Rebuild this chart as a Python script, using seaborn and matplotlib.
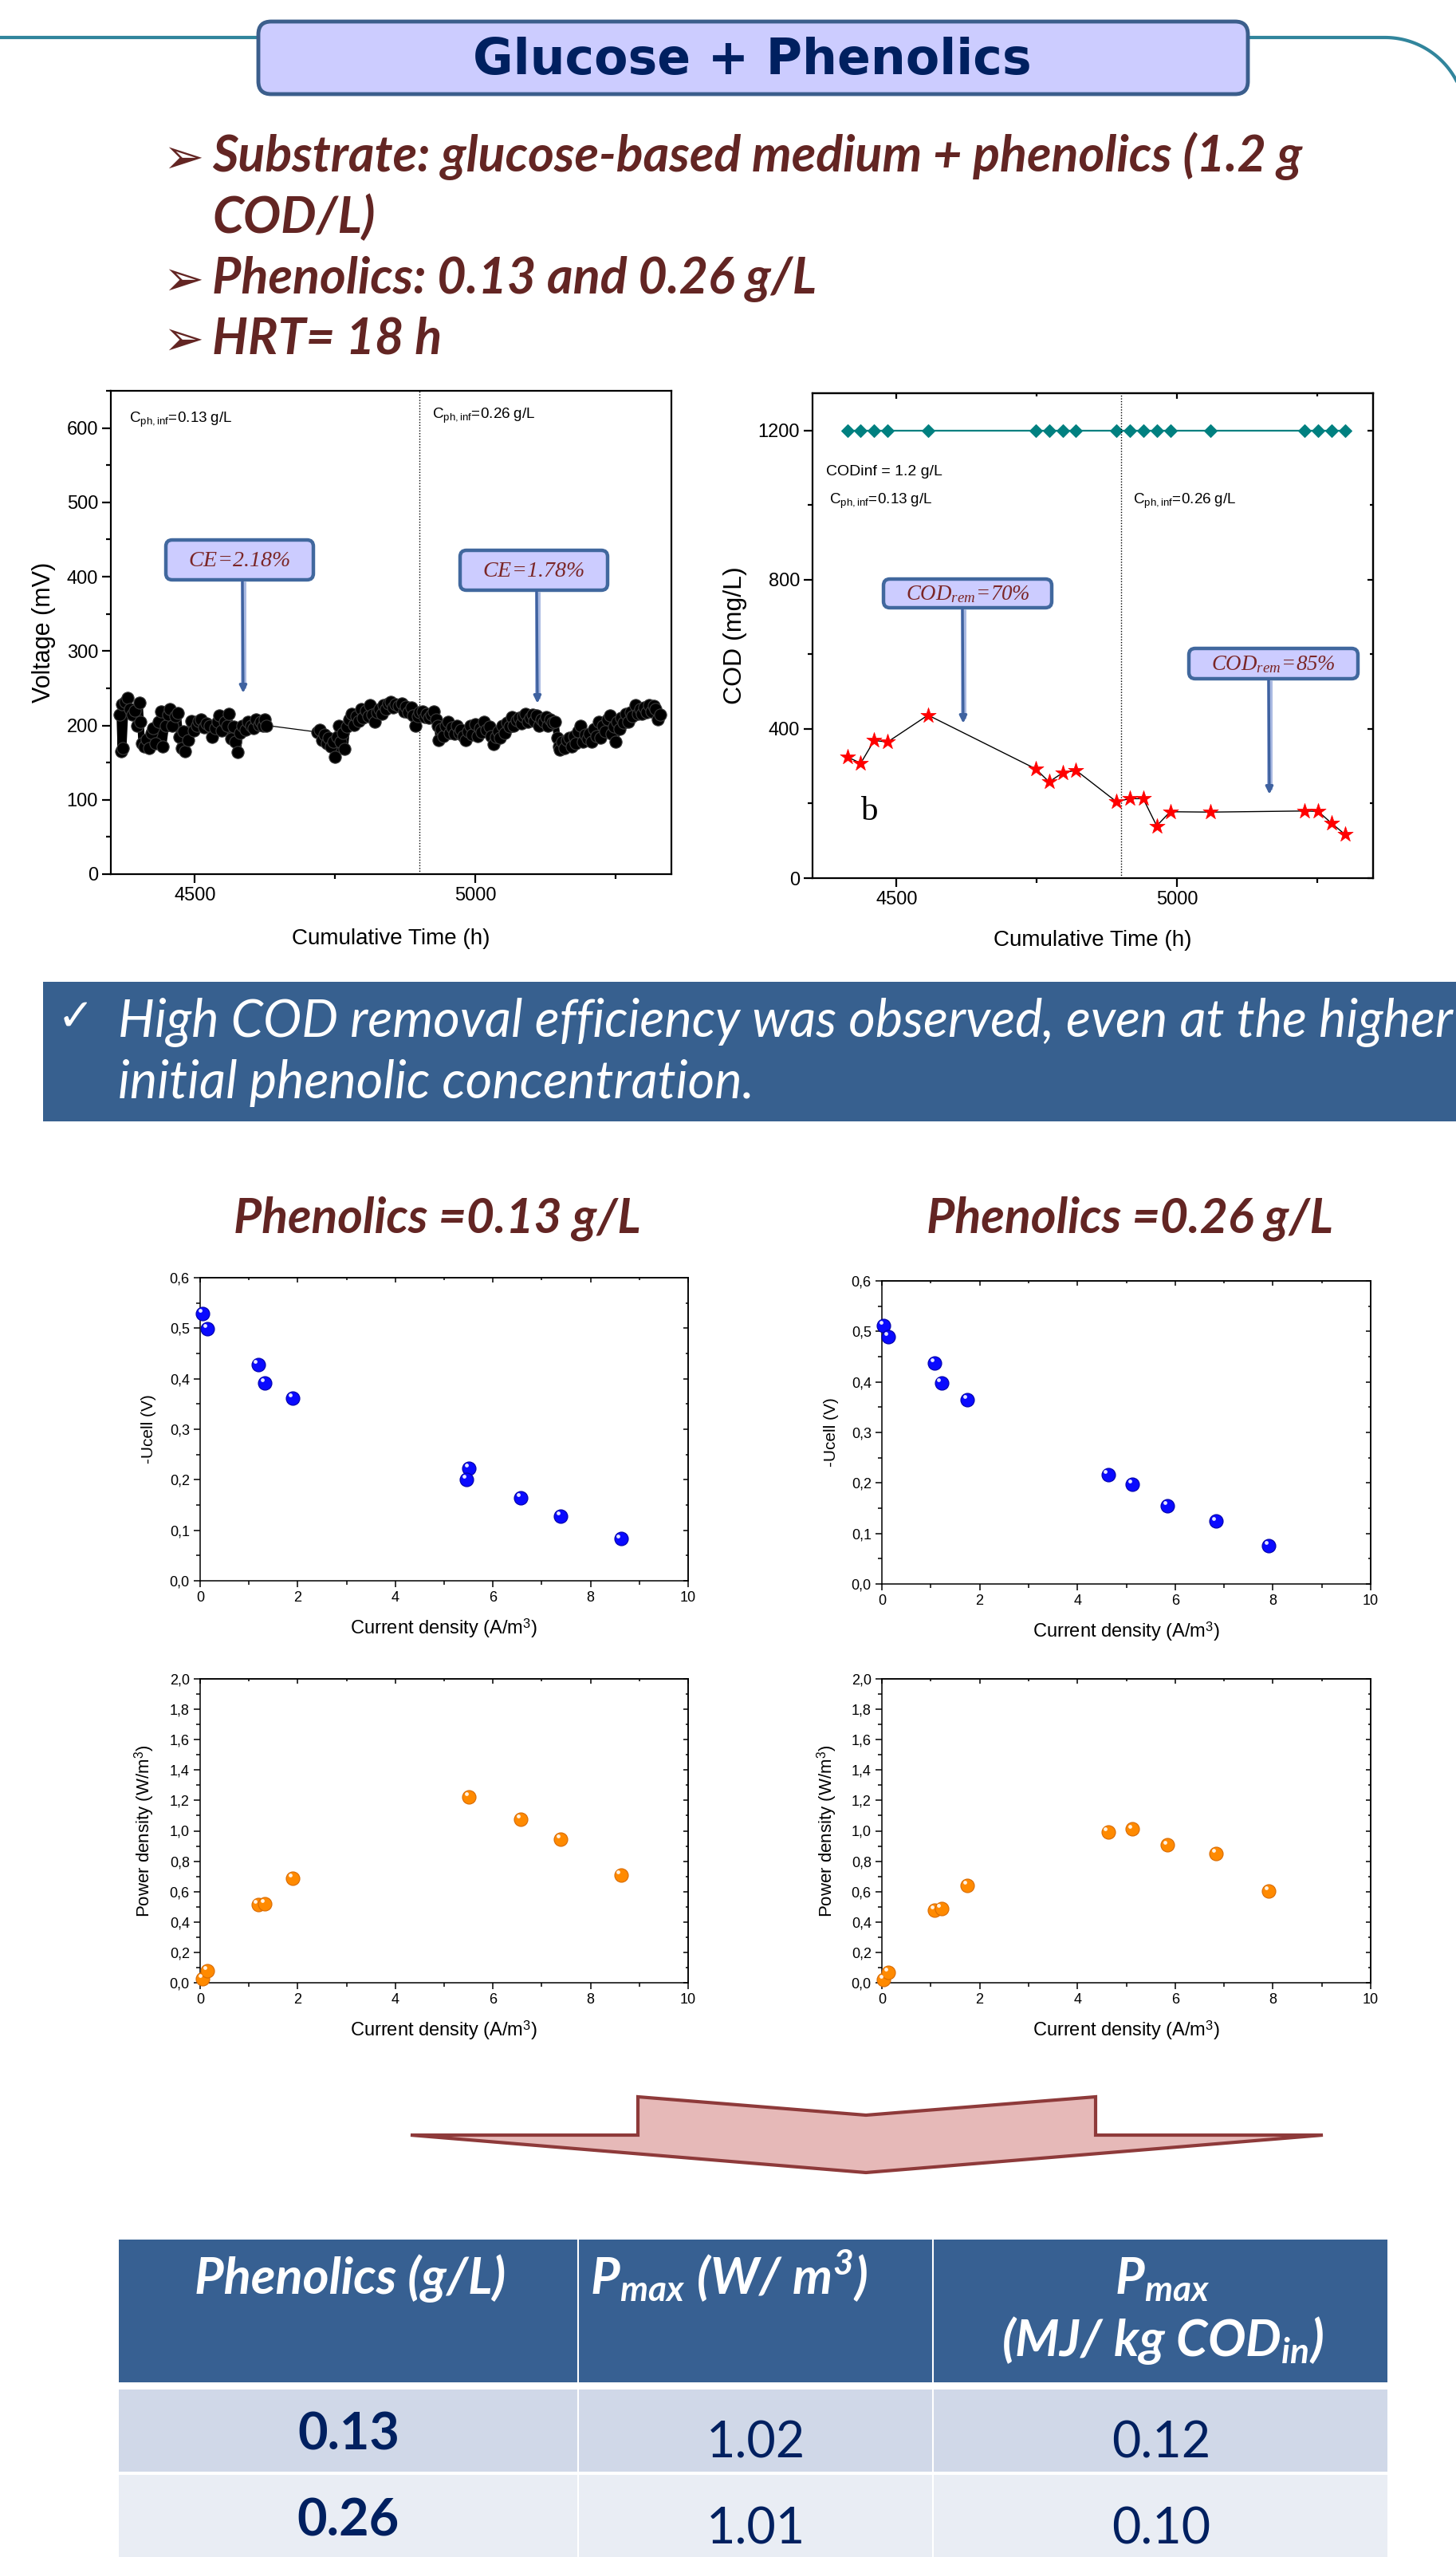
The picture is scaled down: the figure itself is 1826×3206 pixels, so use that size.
import numpy as np
import pandas as pd
import matplotlib
matplotlib.use("Agg")
import matplotlib.pyplot as plt
import matplotlib.ticker as mticker
from matplotlib.patches import FancyBboxPatch, Polygon, Rectangle
from matplotlib.transforms import ScaledTranslation
import seaborn as sns

# ---------------------------------------------------------------- data
# cell voltage (cumulative time h, mV)
VOLT_SEG1 = [(4366, 215), (4368, 165), (4370, 228), (4372, 170), (4376, 232), (4380, 237),
             (4384, 222), (4388, 215), (4393, 220), (4397, 200), (4401, 231), (4403, 205),
             (4405, 176), (4410, 172), (4414, 181), (4418, 170), (4422, 190), (4426, 196),
             (4430, 176), (4435, 205), (4440, 219), (4443, 172), (4448, 200), (4452, 214),
             (4455, 222), (4460, 200), (4465, 212), (4469, 217), (4473, 185), (4476, 170),
             (4479, 192), (4483, 165), (4488, 180), (4493, 206), (4498, 193), (4503, 200),
             (4507, 206), (4511, 208), (4516, 197), (4521, 203), (4526, 200), (4531, 184),
             (4536, 196), (4540, 205), (4543, 213), (4548, 193), (4553, 205), (4557, 200),
             (4560, 216), (4565, 182), (4569, 198), (4572, 178), (4576, 164), (4580, 190),
             (4585, 200), (4590, 194), (4595, 205), (4600, 200), (4605, 196), (4609, 208),
             (4614, 201), (4618, 205), (4622, 200), (4625, 208), (4628, 200)]
VOLT_SEG2 = [(4719, 191), (4723, 194), (4727, 180), (4731, 188), (4735, 176), (4739, 183),
             (4743, 172), (4747, 178), (4750, 158), (4754, 185), (4757, 200), (4760, 178),
             (4764, 190), (4767, 168), (4771, 198), (4775, 208), (4780, 216), (4784, 201),
             (4788, 212), (4792, 206), (4796, 222), (4800, 210), (4805, 220), (4809, 212),
             (4812, 227), (4817, 214), (4821, 205), (4825, 218), (4829, 222), (4833, 216),
             (4837, 227), (4841, 222), (4845, 230), (4849, 232), (4853, 224), (4858, 229),
             (4863, 226), (4869, 230), (4873, 219), (4877, 225), (4881, 218), (4886, 224),
             (4889, 213), (4893, 200), (4897, 212), (4901, 218), (4906, 219), (4910, 211),
             (4914, 216), (4918, 210), (4922, 214), (4926, 219), (4930, 208), (4933, 200),
             (4935, 180), (4939, 195), (4943, 186), (4947, 200), (4951, 205), (4955, 190),
             (4959, 197), (4963, 189), (4967, 200), (4971, 190), (4975, 194), (4979, 186),
             (4983, 180), (4987, 192), (4991, 200), (4995, 188), (5000, 202), (5004, 186),
             (5008, 196), (5012, 191), (5016, 205), (5020, 194), (5025, 198), (5029, 186),
             (5033, 175), (5037, 184), (5041, 192), (5044, 183), (5048, 200), (5052, 190),
             (5057, 204), (5061, 198), (5065, 211), (5069, 200), (5074, 207), (5078, 210),
             (5082, 203), (5086, 212), (5090, 216), (5094, 205), (5098, 210), (5102, 214),
             (5106, 206), (5110, 213), (5114, 200), (5118, 208), (5122, 205), (5126, 211),
             (5130, 200), (5134, 208), (5138, 204), (5143, 205), (5146, 183), (5149, 172),
             (5151, 167), (5155, 178), (5159, 170), (5163, 180), (5168, 183), (5172, 172),
             (5176, 186), (5180, 176), (5184, 192), (5188, 200), (5192, 178), (5196, 188),
             (5200, 182), (5204, 189), (5208, 178), (5212, 195), (5216, 186), (5220, 205),
             (5224, 183), (5228, 200), (5232, 192), (5236, 208), (5240, 213), (5244, 189),
             (5248, 198), (5251, 178), (5253, 205), (5257, 195), (5261, 210), (5265, 204),
             (5269, 216), (5273, 205), (5277, 218), (5281, 212), (5286, 227), (5290, 216),
             (5294, 222), (5298, 216), (5302, 224), (5306, 218), (5310, 227), (5314, 219),
             (5318, 226), (5322, 222), (5326, 208), (5330, 214)]

COD_TIME = [4412, 4436, 4460, 4484, 4556, 4748, 4772, 4796, 4820, 4892,
            4916, 4940, 4964, 4988, 5060, 5228, 5252, 5276, 5300]
COD_INFLUENT = [1200, 1200, 1200, 1200, 1200, 1200, 1200, 1200, 1200, 1200,
                1200, 1200, 1200, 1200, 1200, 1200, 1200, 1200, 1200]
COD_EFFLUENT = [325, 308, 369, 365, 437, 293, 258, 282, 289, 205,
                213, 213, 140, 178, 177, 180, 179, 147, 117]

J_013 = [0.055, 0.15, 1.19, 1.33, 1.90, 5.51, 5.46, 6.57, 7.39, 8.62]
U_013 = [0.529, 0.499, 0.428, 0.392, 0.361, 0.223, 0.200, 0.164, 0.128, 0.083]
PJ_013 = [0.055, 0.15, 1.19, 1.33, 1.90, 5.51, 6.57, 7.39, 8.62]
P_013 = [0.028, 0.080, 0.513, 0.521, 0.688, 1.223, 1.078, 0.947, 0.709]
J_026 = [0.033, 0.13, 1.08, 1.22, 1.75, 4.63, 5.13, 5.84, 6.84, 7.91]
U_026 = [0.511, 0.490, 0.437, 0.398, 0.365, 0.216, 0.197, 0.155, 0.124, 0.076]
P_026 = [0.019, 0.070, 0.478, 0.488, 0.640, 0.994, 1.011, 0.906, 0.849, 0.602]

TABLE_PHENOLICS = ["0.13", "0.26"]
TABLE_PMAX_W = ["1.02", "1.01"]
TABLE_PMAX_MJ = ["0.12", "0.10"]

# ---------------------------------------------------------------- style
sns.set_theme(style="white")
plt.rcParams["font.family"] = ["Liberation Sans", "DejaVu Sans"]
plt.rcParams["mathtext.fontset"] = "custom"
plt.rcParams["mathtext.rm"] = "Liberation Serif:italic"
plt.rcParams["mathtext.it"] = "Liberation Serif:italic"
plt.rcParams["mathtext.sf"] = "Liberation Sans"
plt.rcParams["mathtext.bf"] = "Lato:italic:bold"
for k in ["text.color", "axes.labelcolor", "xtick.color", "ytick.color", "axes.edgecolor"]:
    plt.rcParams[k] = "black"

W, H = 1826, 3206
fig = plt.figure(figsize=(W / 100, H / 100), dpi=100)
fig.patch.set_facecolor("white")
renderer = fig.canvas.get_renderer()


def add_ax(l, t, r, b):
    return fig.add_axes([l / W, 1 - b / H, (r - l) / W, (b - t) / H])


def style_axes(ax, lw):
    ax.set_facecolor("white")
    ax.grid(False)
    for s in ax.spines.values():
        s.set_visible(True)
        s.set_color("black")
        s.set_linewidth(lw)


def mirror(ax, xmaj, xmin, ymaj, ymin, L, Lm, w):
    sx = ax.secondary_xaxis("top")
    sx.set_xticks(xmaj)
    sx.xaxis.set_minor_locator(mticker.FixedLocator(xmin))
    sx.tick_params(which="both", direction="in", labeltop=False, width=w)
    sx.tick_params(which="major", length=L)
    sx.tick_params(which="minor", length=Lm)
    sx.spines["top"].set_linewidth(w)
    sy = ax.secondary_yaxis("right")
    sy.set_yticks(ymaj)
    sy.yaxis.set_minor_locator(mticker.FixedLocator(ymin))
    sy.tick_params(which="both", direction="in", labelright=False, width=w)
    sy.tick_params(which="major", length=L)
    sy.tick_params(which="minor", length=Lm)
    sy.spines["right"].set_linewidth(w)


# ---------------------------------------------------------------- voltage
axv = add_ax(139, 490, 842, 1096)
style_axes(axv, 1.6)
d1 = pd.DataFrame(VOLT_SEG1, columns=["time", "voltage"])
d2 = pd.DataFrame(VOLT_SEG2, columns=["time", "voltage"])
gap = pd.DataFrame([VOLT_SEG1[-1], VOLT_SEG2[0]], columns=["time", "voltage"])
sns.lineplot(data=gap, x="time", y="voltage", ax=axv, color="black", lw=0.9,
             estimator=None, sort=False)
for d in (d1, d2):
    sns.lineplot(data=d, x="time", y="voltage", ax=axv, color="black", lw=6,
                 estimator=None, sort=False, marker="o", ms=11, mfc="black",
                 mec="#3c3c3c", mew=0.8)
axv.set_xlim(4350, 5350)
axv.set_ylim(0, 650)
axv.set_xticks([4500, 5000])
axv.xaxis.set_minor_locator(mticker.FixedLocator([4750, 5250]))
axv.set_yticks(range(0, 601, 100))
axv.yaxis.set_minor_locator(mticker.MultipleLocator(50))
axv.tick_params(which="both", direction="out", left=True, bottom=True, width=1.6, labelsize=17)
axv.tick_params(which="major", length=8)
axv.tick_params(which="minor", length=4.5)
axv.axvline(4900, color="black", ls=(0, (1, 1.5)), lw=1)
axv.set_xlabel("Cumulative Time (h)", fontsize=20)
axv.set_ylabel("Voltage (mV)", fontsize=22)
axv.yaxis.set_label_coords((70 - 139) / 703, 0.5)
axv.xaxis.set_label_coords(0.5, -(1164 - 1096) / 606)

# ---------------------------------------------------------------- COD
axc = add_ax(1019, 493, 1722, 1101)
style_axes(axc, 1.6)
cod = pd.DataFrame({"time": COD_TIME, "influent": COD_INFLUENT, "effluent": COD_EFFLUENT})
sns.lineplot(data=cod, x="time", y="influent", ax=axc, color="#008080", lw=1.6,
             estimator=None, marker="D", ms=8.5, mfc="#008080", mec="#008080")
sns.lineplot(data=cod, x="time", y="effluent", ax=axc, color="black", lw=1.0, estimator=None)
sns.scatterplot(data=cod, x="time", y="effluent", ax=axc, marker="*", s=210,
                color="#ff0000", edgecolor="#ff0000", linewidth=0.5, zorder=4)
axc.set_xlim(4350, 5350)
axc.set_ylim(0, 1300)
axc.set_xticks([4500, 5000])
axc.xaxis.set_minor_locator(mticker.FixedLocator([4750, 5250]))
axc.set_yticks([0, 400, 800, 1200])
axc.yaxis.set_minor_locator(mticker.FixedLocator([200, 600, 1000]))
axc.tick_params(which="both", direction="out", left=True, bottom=True, width=1.6, labelsize=17)
axc.tick_params(which="major", length=8)
axc.tick_params(which="minor", length=4.5)
mirror(axc, [4500, 5000], [4750, 5250], [0, 400, 800, 1200], [200, 600, 1000], 5, 3, 1.6)
axc.axvline(4900, color="black", ls=(0, (1, 1.5)), lw=1)
axc.set_xlabel("Cumulative Time (h)", fontsize=20)
axc.set_ylabel("COD (mg/L)", fontsize=23)
axc.yaxis.set_label_coords((937 - 1019) / 703, 0.5)
axc.xaxis.set_label_coords(0.5, -(1166 - 1101) / 608)

# ---------------------------------------------------------------- polarisation plots
comma = mticker.FuncFormatter(lambda v, p: f"{v:.1f}".replace(".", ","))


def iv_plot(box, x, y, color, edge, ymax, ymaj, ymin, ylabel, ylab_fs, ylab_x, xlab_top):
    l, t, r, b = box
    ax = add_ax(l, t, r, b)
    style_axes(ax, 1.1)
    df = pd.DataFrame({"j": x, "v": y})
    sns.scatterplot(data=df, x="j", y="v", ax=ax, s=150, color=color, edgecolor=edge,
                    linewidth=0.8, zorder=3, clip_on=False)
    ax.scatter(df["j"], df["v"], s=12, color="white", alpha=0.9, zorder=4, linewidths=0,
               clip_on=False,
               transform=ax.transData + ScaledTranslation(-2.4 / 72, 2.8 / 72, fig.dpi_scale_trans))
    ax.set_xlim(0, 10)
    ax.set_ylim(0, ymax)
    xt = list(range(0, 11, 2))
    xm = list(range(1, 10, 2))
    yt = list(np.round(np.arange(0, ymax + 1e-9, ymaj), 3))
    ym = list(np.round(np.arange(ymin, ymax, ymaj), 3))
    ax.set_xticks(xt)
    ax.xaxis.set_minor_locator(mticker.FixedLocator(xm))
    ax.set_yticks(yt)
    ax.yaxis.set_minor_locator(mticker.FixedLocator(ym))
    ax.yaxis.set_major_formatter(comma)
    ax.tick_params(which="both", direction="out", left=True, bottom=True, width=1.1, labelsize=13)
    ax.tick_params(which="major", length=6)
    ax.tick_params(which="minor", length=3.5)
    mirror(ax, xt, xm, yt, ym, 4, 2.5, 1.1)
    ax.set_xlabel(r"Current density (A/m$^{\mathsf{3}}$)", fontsize=17)
    ax.set_ylabel(ylabel, fontsize=ylab_fs)
    ax.yaxis.set_label_coords((ylab_x - l) / (r - l), 0.5)
    ax.xaxis.set_label_coords(0.5, -(xlab_top - b) / (b - t))
    return ax


BLUE, BLUE_E = "#0a0aff", "#0000a8"
ORANGE, ORANGE_E = "#ff8a00", "#d86a00"
iv_plot((251, 1602, 863, 1982), J_013, U_013, BLUE, BLUE_E, 0.6, 0.1, 0.05,
        "-Ucell (V)", 15, 196, 2027)
iv_plot((1106, 1606, 1719, 1986), J_026, U_026, BLUE, BLUE_E, 0.6, 0.1, 0.05,
        "-Ucell (V)", 15, 1052, 2031)
iv_plot((251, 2105, 863, 2486), PJ_013, P_013, ORANGE, ORANGE_E, 2.0, 0.2, 0.1,
        r"Power density (W/m$^{\mathsf{3}}$)", 16, 196, 2531)
iv_plot((1106, 2105, 1719, 2486), J_026, P_026, ORANGE, ORANGE_E, 2.0, 0.2, 0.1,
        r"Power density (W/m$^{\mathsf{3}}$)", 16, 1052, 2531)

# ---------------------------------------------------------------- overlay (decorations, texts)
ov = fig.add_axes([0, 0, 1, 1], zorder=10)
ov.set_xlim(0, W)
ov.set_ylim(H, 0)
ov.axis("off")
ov.patch.set_alpha(0)


def fit(t, width):
    bb = t.get_window_extent(renderer=renderer)
    t.set_fontsize(t.get_fontsize() * width / bb.width)
    return t


MAROON = "#632523"
NAVY = "#002060"
TEAL = "#31859C"

# header line and title box
ov.plot([0, 330], [47, 47], color=TEAL, lw=3, solid_capstyle="butt", zorder=1)
ang = np.linspace(np.pi / 2, 0, 60)
arc_x = np.concatenate([[1560], 1737 + 101 * np.cos(ang)])
arc_y = np.concatenate([[47], 148 - 101 * np.sin(ang)])
ov.plot(arc_x, arc_y, color=TEAL, lw=3, zorder=1, clip_on=True)
ov.add_patch(FancyBboxPatch((324, 27), 1241, 91, boxstyle="round,pad=0,rounding_size=16",
                            fc="#CCCCFF", ec="#3B5E8C", lw=3.5, zorder=2))
t = ov.text(943, 76, "Glucose + Phenolics", ha="center", va="center", color=NAVY,
            family=["DejaVu Sans"], weight="bold", fontsize=40, zorder=3)
fit(t, 700)

# bullets
b1 = ov.text(266, 215, "Substrate: glucose-based medium + phenolics (1.2 g", family="Lato",
             weight="bold", style="italic", color=MAROON, fontsize=40, va="baseline")
fit(b1, 1364)
fs = b1.get_fontsize()
for y, s in [(292, "COD/L)"), (368, "Phenolics: 0.13 and 0.26 g/L"), (443, "HRT= 18 h")]:
    ov.text(266, y, s, family="Lato", weight="bold", style="italic", color=MAROON,
            fontsize=fs, va="baseline")
for y in (215, 368, 443):
    ov.text(204, y + 2, "\u27a2", family=["DejaVu Sans"], color=MAROON, fontsize=44,
            va="baseline")

# callouts


def callout(x0, y0, x1, y1, ax_x, y_end, label, width):
    ov.add_patch(FancyBboxPatch((x0, y0), x1 - x0, y1 - y0,
                                boxstyle="round,pad=0,rounding_size=8",
                                fc="#CCCCFF", ec="#41689E", lw=3.2, zorder=5))
    tt = ov.text((x0 + x1) / 2, (y0 + y1) / 2 + 1, label, ha="center", va="center",
                 color="#7B2626", fontsize=20, zorder=6)
    fit(tt, width)
    ov.plot([ax_x, ax_x], [y1 + 2, y_end - 6], color="#A9B9E2", lw=5, zorder=4,
            solid_capstyle="butt")
    ov.annotate("", xy=(ax_x, y_end), xytext=(ax_x - 1, y1 + 2),
                arrowprops=dict(arrowstyle="-|>,head_width=0.22,head_length=0.45",
                                color="#3F62A0", lw=2.4, shrinkA=0, shrinkB=0), zorder=5)


callout(208, 677, 393, 727, 305, 869, r"$CE\!=\!2.18\%$", 128)
callout(577, 690, 762, 740, 674, 882, r"$CE\!=\!1.78\%$", 128)
callout(1108, 726, 1319, 762, 1208, 907, r"$COD_{rem}\!=\!70\%$", 156)
callout(1491, 813, 1703, 851, 1592, 996, r"$COD_{rem}\!=\!85\%$", 156)

# in-plot labels
for x, y, s, wdt in [(162, 530, r"$\mathsf{C_{ph,inf}\!=\!0.13\ g/L}$", 130),
                     (542, 525, r"$\mathsf{C_{ph,inf}\!=\!0.26\ g/L}$", 130),
                     (1040, 632, r"$\mathsf{C_{ph,inf}\!=\!0.13\ g/L}$", 130),
                     (1421, 632, r"$\mathsf{C_{ph,inf}\!=\!0.26\ g/L}$", 130)]:
    fit(ov.text(x, y, s, va="baseline", color="black", fontsize=14), wdt)
fit(ov.text(1036, 596, "CODinf = 1.2 g/L", va="baseline", color="black", fontsize=14), 146)
ov.text(1080, 1028, "b", family="Liberation Serif", fontsize=31, va="baseline", color="black")

# conclusion banner
ov.add_patch(Rectangle((54, 1231), W - 54 + 5, 175, fc="#37608F", ec="none", zorder=1))
ov.text(72, 1292, "\u2713", family=["DejaVu Sans"], color="white", fontsize=40,
        va="baseline", zorder=2)
bl = ov.text(148, 1300, "High COD removal efficiency was observed, even at the higher",
             family="Lato", style="italic", color="white", fontsize=40, va="baseline", zorder=2)
fit(bl, 1672)
ov.text(148, 1377, "initial phenolic concentration.", family="Lato", style="italic",
        color="white", fontsize=bl.get_fontsize(), va="baseline", zorder=2)

# sub-headings
for x, s in [(293, "Phenolics =0.13 g/L"), (1162, "Phenolics =0.26 g/L")]:
    fit(ov.text(x, 1545, s, family="Lato", weight="bold", style="italic", color=MAROON,
                fontsize=40, va="baseline"), 510)

# big arrow
ov.add_patch(Polygon([(515, 2677), (800, 2677), (800, 2629), (1086, 2652), (1374, 2629),
                      (1374, 2677), (1659, 2677), (1086, 2724)], closed=True,
                     fc="#E6B9B8", ec="#8E3A3A", lw=3, joinstyle="miter"))

# table
ov.add_patch(Rectangle((149, 2808), 1591, 179, fc="#376092", ec="none"))
ov.add_patch(Rectangle((149, 2996), 1591, 103, fc="#D0D8E8", ec="none"))
ov.add_patch(Rectangle((149, 3103), 1591, 120, fc="#E9EDF4", ec="none"))
for xx in (725, 1170):
    ov.plot([xx, xx], [2808, 3210], color="white", lw=1.5)
ph = ov.text(439, 2876, "Phenolics (g/L)", ha="center", va="baseline", family="Lato",
             weight="bold", style="italic", color="white", fontsize=40)
fit(ph, 390)
hfs = ph.get_fontsize()
ov.text(914, 2876, r"$\mathbf{P_{max}\ (W/\ m^{3})}$", ha="center", va="baseline",
        color="white", fontsize=hfs)
ov.text(1458, 2876, r"$\mathbf{P_{max}}$", ha="center", va="baseline", color="white", fontsize=hfs)
ov.text(1458, 2954, r"$\mathbf{(MJ/\ kg\ COD_{in})}$", ha="center", va="baseline",
        color="white", fontsize=hfs)
for i, yb in enumerate((3072, 3180)):
    tp = ov.text(437, yb, TABLE_PHENOLICS[i], ha="center", va="baseline", family="Lato",
                 weight="bold", color=NAVY, fontsize=40)
    fit(tp, 128)
    for xc, col in ((948, TABLE_PMAX_W), (1456, TABLE_PMAX_MJ)):
        tv = ov.text(xc, yb + 9, col[i], ha="center", va="baseline", family="Lato",
                     color=NAVY, fontsize=40)
        fit(tv, 124)

fig.savefig("out.png", dpi=100)
